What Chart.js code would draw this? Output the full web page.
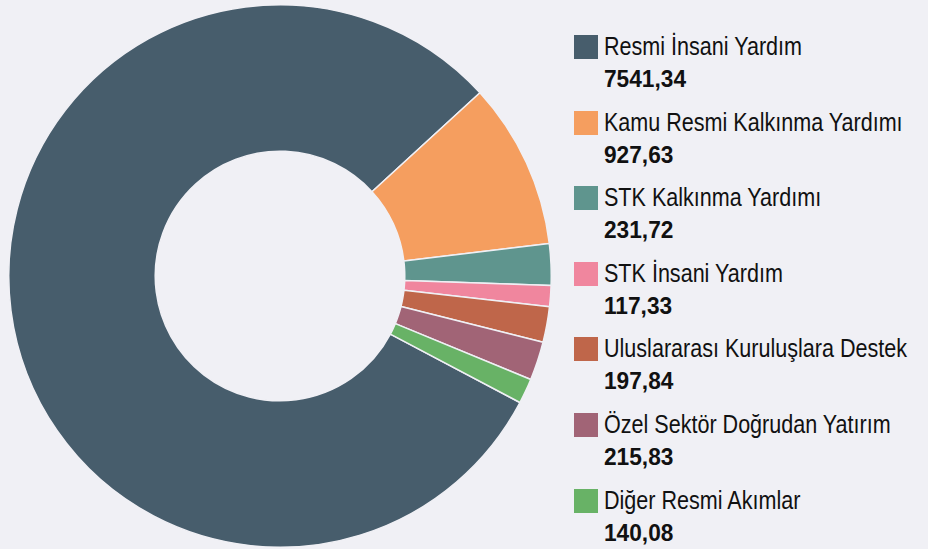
<!DOCTYPE html>
<html>
<head>
<meta charset="utf-8">
<script src="https://cdn.jsdelivr.net/npm/chart.js@4/dist/chart.umd.min.js"></script>
<style>
  html, body { margin: 0; padding: 0; background: #f0f0f5; }
  body { width: 928px; height: 549px; position: relative; overflow: hidden;
         font-family: "Liberation Sans", Arial, sans-serif; }
  #wrap { position: absolute; left: 8px; top: 4px; width: 544px; height: 544px; }
  #legend { position: absolute; left: 574px; top: 35px; }
  .item { position: relative; height: 75.6px; }
  .box { position: absolute; left: 0; top: 0; width: 24px; height: 24px; }
  .lbl { position: absolute; left: 30px; top: -3px; font-size: 25px; line-height: 28px; color: #111;
         white-space: nowrap; transform-origin: 0 0; }
  .val { position: absolute; left: 30px; top: 31px; font-size: 23px; line-height: 26px; font-weight: bold;
         color: #111; white-space: nowrap; transform-origin: 0 0; }
</style>
</head>
<body>
<div id="wrap"><canvas id="donut"></canvas></div>
<div id="legend"></div>
<script>
// categories and values
var categories = ["Resmi İnsani Yardım", "Kamu Resmi Kalkınma Yardımı", "STK Kalkınma Yardımı",
                  "STK İnsani Yardım", "Uluslararası Kuruluşlara Destek", "Özel Sektör Doğrudan Yatırım",
                  "Diğer Resmi Akımlar"];
var values = [7541.34, 927.63, 231.72, 117.33, 197.84, 215.83, 140.08];
var valueLabels = ["7541,34", "927,63", "231,72", "117,33", "197,84", "215,83", "140,08"];
var colors = ["#475d6c", "#f59e5f", "#5f958e", "#f0869e", "#bf664a", "#a16476", "#68b266"];

// the original uses a condensed face, squeeze a regular one to match
var mctx = document.createElement("canvas").getContext("2d");
mctx.font = "25px 'Liberation Sans'";
var lblScale = 299 / mctx.measureText(categories[1]).width;
mctx.font = "bold 23px 'Liberation Sans'";
var valScale = 82 / mctx.measureText(valueLabels[0]).width;

// html legend with name + bold value
var legend = document.getElementById("legend");
categories.forEach(function (c, i) {
    var row = document.createElement("div");
    row.className = "item";
    row.innerHTML = '<div class="box" style="background:' + colors[i] + '"></div>' +
        '<div class="lbl" style="transform:scaleX(' + lblScale + ')">' + c + '</div>' +
        '<div class="val" style="transform:scaleX(' + valScale + ')">' + valueLabels[i] + '</div>';
    legend.appendChild(row);
});

var ctx = document.getElementById("donut");
var donut = new Chart(ctx, {
    type: "doughnut",
    data: {
        labels: categories,
        datasets: [{
            data: values,
            backgroundColor: colors,
            borderColor: "#f0f0f5",
            borderWidth: 1.5
        }]
    },
    options: {
        responsive: true,
        maintainAspectRatio: false,
        animation: false,
        rotation: 117.8,
        cutout: "46%",
        layout: { padding: 0 },
        plugins: {
            legend: { display: false },
            tooltip: { enabled: false }
        }
    }
});
</script>
</body>
</html>
